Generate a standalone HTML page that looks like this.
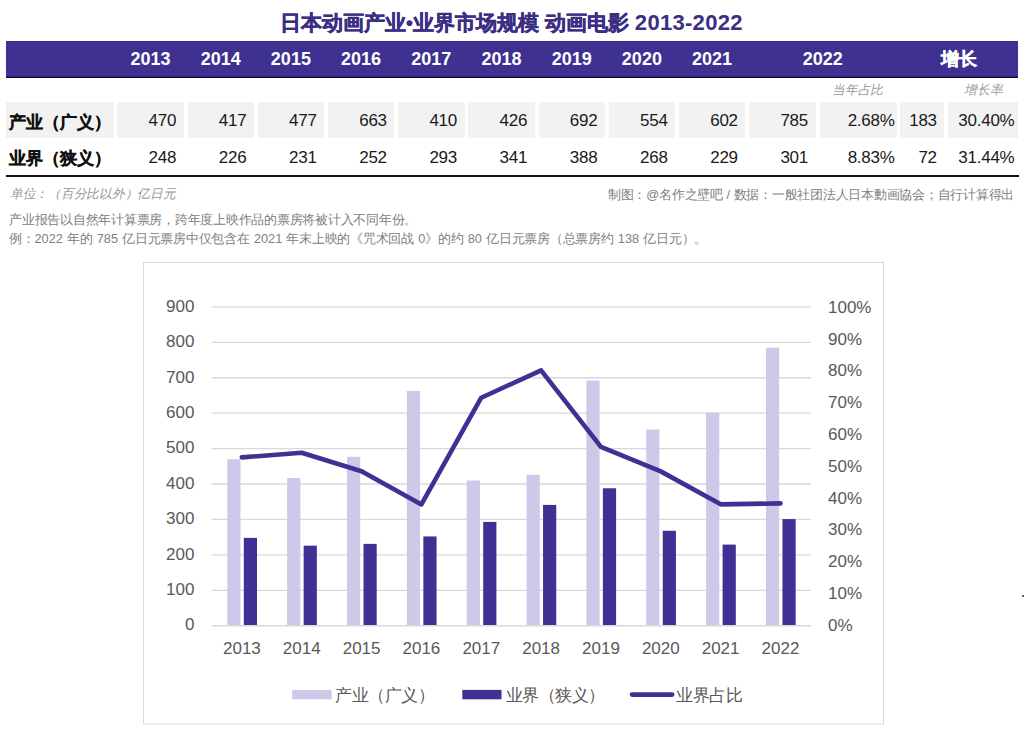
<!DOCTYPE html>
<html><head><meta charset="utf-8"><title>日本动画产业·业界市场规模 动画电影 2013-2022</title><style>
html,body{margin:0;padding:0;background:#fff;}
body{width:1024px;height:744px;position:relative;overflow:hidden;font-family:"Liberation Sans", sans-serif;}
.a{position:absolute;white-space:nowrap;}
.c{display:inline-block;width:1em;text-align:center;}
.title .c,.hy .c{-webkit-text-stroke:0.45px currentColor;}
.lab .c{-webkit-text-stroke:0.35px currentColor;}
.sk{transform:skewX(-13deg);transform-origin:0 100%;}
.title{left:279.8px;top:8.5px;font-size:21px;font-weight:bold;color:#3b2e84;line-height:28px;}
.hdr{left:6px;top:41px;width:1012px;height:37px;background:linear-gradient(to bottom,#372a80 0,#372a80 1px,#3f3192 1px,#3f3192 35px,#2b2170 35px,#2b2170 36px,#0c0830 36px,#0c0830 37px);}
.hy{top:47.3px;font-size:18px;font-weight:bold;color:#fff;line-height:24px;text-align:center;}
.cell{background:#f2f2f2;top:102px;height:36px;}
.num{font-size:17px;letter-spacing:-0.25px;color:#1a1a1a;line-height:20px;text-align:right;}
.lab{font-size:17px;font-weight:bold;color:#111;line-height:20px;}
.sub{font-size:12.8px;color:#9a9a9a;line-height:16px;}
.note{font-size:12.75px;color:#808080;line-height:16px;}
.ax{font-size:17px;color:#595959;line-height:20px;}
.leg{font-size:16.5px;color:#595959;line-height:20px;top:684.5px;}
</style></head><body>
<div class="a title"><span class="c">日</span><span class="c">本</span><span class="c">动</span><span class="c">画</span><span class="c">产</span><span class="c">业</span>•<span class="c">业</span><span class="c">界</span><span class="c">市</span><span class="c">场</span><span class="c">规</span><span class="c">模</span> <span class="c">动</span><span class="c">画</span><span class="c">电</span><span class="c">影</span> <span style="font-size:22px;letter-spacing:0.3px">2013-2022</span></div>
<div class="a hdr"></div>

<div class="a hy" style="left:115.5px;width:70px">2013</div>
<div class="a hy" style="left:185.7px;width:70px">2014</div>
<div class="a hy" style="left:255.9px;width:70px">2015</div>
<div class="a hy" style="left:326.1px;width:70px">2016</div>
<div class="a hy" style="left:396.3px;width:70px">2017</div>
<div class="a hy" style="left:466.5px;width:70px">2018</div>
<div class="a hy" style="left:536.7px;width:70px">2019</div>
<div class="a hy" style="left:606.9px;width:70px">2020</div>
<div class="a hy" style="left:677.1px;width:70px">2021</div>
<div class="a hy" style="left:772.8px;width:100px">2022</div>
<div class="a hy" style="left:918.7px;width:80px"><span class="c">增</span><span class="c">长</span></div>
<div class="a sub sk" style="left:831px;top:82.2px"><span class="c">当</span><span class="c">年</span><span class="c">占</span><span class="c">比</span></div>
<div class="a sub sk" style="left:962.5px;top:82.2px"><span class="c">增</span><span class="c">长</span><span class="c">率</span></div>
<div class="a cell" style="left:6px;width:107.5px"></div>
<div class="a cell" style="left:117.3px;width:66.6px"></div>
<div class="a cell" style="left:187.5px;width:66.6px"></div>
<div class="a cell" style="left:257.7px;width:66.6px"></div>
<div class="a cell" style="left:327.9px;width:66.6px"></div>
<div class="a cell" style="left:398.1px;width:66.6px"></div>
<div class="a cell" style="left:468.3px;width:66.6px"></div>
<div class="a cell" style="left:538.5px;width:66.6px"></div>
<div class="a cell" style="left:608.7px;width:66.6px"></div>
<div class="a cell" style="left:678.9px;width:66.6px"></div>
<div class="a cell" style="left:749.1px;width:66.6px"></div>
<div class="a cell" style="left:819.5px;width:77.3px"></div>
<div class="a cell" style="left:900.2px;width:44.2px"></div>
<div class="a cell" style="left:947.7px;width:70px"></div>
<div class="a lab" style="left:8.5px;top:112.5px"><span class="c">产</span><span class="c">业</span><span class="c">（</span><span class="c">广</span><span class="c">义</span><span class="c">）</span></div>
<div class="a lab" style="left:8.5px;top:149px"><span class="c">业</span><span class="c">界</span><span class="c">（</span><span class="c">狭</span><span class="c">义</span><span class="c">）</span></div>
<div class="a num" style="right:847.8px;top:110.8px">470</div>
<div class="a num" style="right:777.6px;top:110.8px">417</div>
<div class="a num" style="right:707.4px;top:110.8px">477</div>
<div class="a num" style="right:637.2px;top:110.8px">663</div>
<div class="a num" style="right:567.0px;top:110.8px">410</div>
<div class="a num" style="right:496.8px;top:110.8px">426</div>
<div class="a num" style="right:426.6px;top:110.8px">692</div>
<div class="a num" style="right:356.4px;top:110.8px">554</div>
<div class="a num" style="right:286.2px;top:110.8px">602</div>
<div class="a num" style="right:216.0px;top:110.8px">785</div>
<div class="a num" style="right:847.8px;top:147.6px">248</div>
<div class="a num" style="right:777.6px;top:147.6px">226</div>
<div class="a num" style="right:707.4px;top:147.6px">231</div>
<div class="a num" style="right:637.2px;top:147.6px">252</div>
<div class="a num" style="right:567.0px;top:147.6px">293</div>
<div class="a num" style="right:496.8px;top:147.6px">341</div>
<div class="a num" style="right:426.6px;top:147.6px">388</div>
<div class="a num" style="right:356.4px;top:147.6px">268</div>
<div class="a num" style="right:286.2px;top:147.6px">229</div>
<div class="a num" style="right:216.0px;top:147.6px">301</div>
<div class="a num" style="right:129.4px;top:110.8px">2.68%</div>
<div class="a num" style="right:129.4px;top:147.6px">8.83%</div>
<div class="a num" style="right:87.2px;top:110.8px">183</div>
<div class="a num" style="right:87.2px;top:147.6px">72</div>
<div class="a num" style="right:9.5px;top:110.8px">30.40%</div>
<div class="a num" style="right:9.5px;top:147.6px">31.44%</div>
<div class="a" style="left:6px;top:174.5px;width:1013px;height:2px;background:#111"></div>
<div class="a note sk" style="left:8.5px;top:186px;color:#959595"><span class="c">单</span><span class="c">位</span><span class="c">：</span><span class="c">（</span><span class="c">百</span><span class="c">分</span><span class="c">比</span><span class="c">以</span><span class="c">外</span><span class="c">）</span><span class="c">亿</span><span class="c">日</span><span class="c">元</span></div>
<div class="a note" style="right:10px;top:187px"><span class="c">制</span><span class="c">图</span><span class="c">：</span>@<span class="c">名</span><span class="c">作</span><span class="c">之</span><span class="c">壁</span><span class="c">吧</span> / <span class="c">数</span><span class="c">据</span><span class="c">：</span><span class="c">一</span><span class="c">般</span><span class="c">社</span><span class="c">团</span><span class="c">法</span><span class="c">人</span><span class="c">日</span><span class="c">本</span><span class="c">動</span><span class="c">画</span><span class="c">協</span><span class="c">会</span><span class="c">；</span><span class="c">自</span><span class="c">行</span><span class="c">计</span><span class="c">算</span><span class="c">得</span><span class="c">出</span></div>
<div class="a note" style="left:9px;top:211.5px"><span class="c">产</span><span class="c">业</span><span class="c">报</span><span class="c">告</span><span class="c">以</span><span class="c">自</span><span class="c">然</span><span class="c">年</span><span class="c">计</span><span class="c">算</span><span class="c">票</span><span class="c">房</span><span class="c">，</span><span class="c">跨</span><span class="c">年</span><span class="c">度</span><span class="c">上</span><span class="c">映</span><span class="c">作</span><span class="c">品</span><span class="c">的</span><span class="c">票</span><span class="c">房</span><span class="c">将</span><span class="c">被</span><span class="c">计</span><span class="c">入</span><span class="c">不</span><span class="c">同</span><span class="c">年</span><span class="c">份</span><span class="c">。</span></div>
<div class="a note" style="left:9px;top:230.6px;word-spacing:0.65px"><span class="c">例</span><span class="c">：</span>2022 <span class="c">年</span><span class="c">的</span> 785 <span class="c">亿</span><span class="c">日</span><span class="c">元</span><span class="c">票</span><span class="c">房</span><span class="c">中</span><span class="c">仅</span><span class="c">包</span><span class="c">含</span><span class="c">在</span> 2021 <span class="c">年</span><span class="c">末</span><span class="c">上</span><span class="c">映</span><span class="c">的</span><span class="c">《</span><span class="c">咒</span><span class="c">术</span><span class="c">回</span><span class="c">战</span> 0<span class="c">》</span><span class="c">的</span><span class="c">约</span> 80 <span class="c">亿</span><span class="c">日</span><span class="c">元</span><span class="c">票</span><span class="c">房</span><span class="c">（</span><span class="c">总</span><span class="c">票</span><span class="c">房</span><span class="c">约</span> 138 <span class="c">亿</span><span class="c">日</span><span class="c">元</span><span class="c">）</span><span class="c">。</span></div>
<svg class="a" style="left:0;top:0" width="1024" height="744" viewBox="0 0 1024 744">
<rect x="143.5" y="262.5" width="740" height="461.5" fill="none" stroke="#d9d9d9" stroke-width="1"/>
<line x1="211.5" y1="590.28" x2="810.9" y2="590.28" stroke="#d9d9d9" stroke-width="1.3"/>
<line x1="211.5" y1="554.86" x2="810.9" y2="554.86" stroke="#d9d9d9" stroke-width="1.3"/>
<line x1="211.5" y1="519.44" x2="810.9" y2="519.44" stroke="#d9d9d9" stroke-width="1.3"/>
<line x1="211.5" y1="484.02" x2="810.9" y2="484.02" stroke="#d9d9d9" stroke-width="1.3"/>
<line x1="211.5" y1="448.60" x2="810.9" y2="448.60" stroke="#d9d9d9" stroke-width="1.3"/>
<line x1="211.5" y1="413.18" x2="810.9" y2="413.18" stroke="#d9d9d9" stroke-width="1.3"/>
<line x1="211.5" y1="377.76" x2="810.9" y2="377.76" stroke="#d9d9d9" stroke-width="1.3"/>
<line x1="211.5" y1="342.34" x2="810.9" y2="342.34" stroke="#d9d9d9" stroke-width="1.3"/>
<line x1="211.5" y1="306.92" x2="810.9" y2="306.92" stroke="#d9d9d9" stroke-width="1.3"/>
<rect x="227.30" y="459.23" width="13.2" height="166.47" fill="#cdc9e9"/>
<rect x="243.80" y="537.86" width="13.2" height="87.84" fill="#3f3193"/>
<rect x="287.15" y="478.00" width="13.2" height="147.70" fill="#cdc9e9"/>
<rect x="303.65" y="545.65" width="13.2" height="80.05" fill="#3f3193"/>
<rect x="347.00" y="456.75" width="13.2" height="168.95" fill="#cdc9e9"/>
<rect x="363.50" y="543.88" width="13.2" height="81.82" fill="#3f3193"/>
<rect x="406.85" y="390.87" width="13.2" height="234.83" fill="#cdc9e9"/>
<rect x="423.35" y="536.44" width="13.2" height="89.26" fill="#3f3193"/>
<rect x="466.70" y="480.48" width="13.2" height="145.22" fill="#cdc9e9"/>
<rect x="483.20" y="521.92" width="13.2" height="103.78" fill="#3f3193"/>
<rect x="526.55" y="474.81" width="13.2" height="150.89" fill="#cdc9e9"/>
<rect x="543.05" y="504.92" width="13.2" height="120.78" fill="#3f3193"/>
<rect x="586.40" y="380.59" width="13.2" height="245.11" fill="#cdc9e9"/>
<rect x="602.90" y="488.27" width="13.2" height="137.43" fill="#3f3193"/>
<rect x="646.25" y="429.47" width="13.2" height="196.23" fill="#cdc9e9"/>
<rect x="662.75" y="530.77" width="13.2" height="94.93" fill="#3f3193"/>
<rect x="706.10" y="412.47" width="13.2" height="213.23" fill="#cdc9e9"/>
<rect x="722.60" y="544.59" width="13.2" height="81.11" fill="#3f3193"/>
<rect x="765.95" y="347.65" width="13.2" height="278.05" fill="#cdc9e9"/>
<rect x="782.45" y="519.09" width="13.2" height="106.61" fill="#3f3193"/>
<line x1="211.5" y1="625.70" x2="810.9" y2="625.70" stroke="#d9d9d9" stroke-width="1.5"/>
<polyline points="241.85,457.38 301.70,452.81 361.55,471.22 421.40,504.45 481.25,397.73 541.10,370.35 600.95,446.84 660.80,471.38 720.65,504.35 780.50,503.38" fill="none" stroke="#3f3193" stroke-width="4.6" stroke-linejoin="round" stroke-linecap="round"/>
<rect x="292.2" y="689.9" width="39.4" height="9.4" fill="#cdc9e9"/>
<rect x="462.3" y="689.9" width="39.2" height="9.4" fill="#3f3193"/>
<line x1="632" y1="694.6" x2="672.2" y2="694.6" stroke="#3f3193" stroke-width="4.6" stroke-linecap="round"/>
</svg>
<div class="a ax" style="right:829.6px;top:615.4px">0</div>
<div class="a ax" style="right:829.6px;top:580.0px">100</div>
<div class="a ax" style="right:829.6px;top:544.6px">200</div>
<div class="a ax" style="right:829.6px;top:509.1px">300</div>
<div class="a ax" style="right:829.6px;top:473.7px">400</div>
<div class="a ax" style="right:829.6px;top:438.3px">500</div>
<div class="a ax" style="right:829.6px;top:402.9px">600</div>
<div class="a ax" style="right:829.6px;top:367.5px">700</div>
<div class="a ax" style="right:829.6px;top:332.0px">800</div>
<div class="a ax" style="right:829.6px;top:296.6px">900</div>
<div class="a ax" style="left:828px;top:615.6px">0%</div>
<div class="a ax" style="left:828px;top:583.8px">10%</div>
<div class="a ax" style="left:828px;top:552.0px">20%</div>
<div class="a ax" style="left:828px;top:520.3px">30%</div>
<div class="a ax" style="left:828px;top:488.5px">40%</div>
<div class="a ax" style="left:828px;top:456.7px">50%</div>
<div class="a ax" style="left:828px;top:424.9px">60%</div>
<div class="a ax" style="left:828px;top:393.1px">70%</div>
<div class="a ax" style="left:828px;top:361.4px">80%</div>
<div class="a ax" style="left:828px;top:329.6px">90%</div>
<div class="a ax" style="left:828px;top:297.8px">100%</div>
<div class="a ax" style="left:201.9px;width:80px;text-align:center;top:638.5px">2013</div>
<div class="a ax" style="left:261.7px;width:80px;text-align:center;top:638.5px">2014</div>
<div class="a ax" style="left:321.6px;width:80px;text-align:center;top:638.5px">2015</div>
<div class="a ax" style="left:381.4px;width:80px;text-align:center;top:638.5px">2016</div>
<div class="a ax" style="left:441.3px;width:80px;text-align:center;top:638.5px">2017</div>
<div class="a ax" style="left:501.1px;width:80px;text-align:center;top:638.5px">2018</div>
<div class="a ax" style="left:561.0px;width:80px;text-align:center;top:638.5px">2019</div>
<div class="a ax" style="left:620.8px;width:80px;text-align:center;top:638.5px">2020</div>
<div class="a ax" style="left:680.6px;width:80px;text-align:center;top:638.5px">2021</div>
<div class="a ax" style="left:740.5px;width:80px;text-align:center;top:638.5px">2022</div>
<div class="a leg" style="left:335px"><span class="c">产</span><span class="c">业</span><span class="c">（</span><span class="c">广</span><span class="c">义</span><span class="c">）</span></div>
<div class="a leg" style="left:505.5px"><span class="c">业</span><span class="c">界</span><span class="c">（</span><span class="c">狭</span><span class="c">义</span><span class="c">）</span></div>
<div class="a leg" style="left:676px"><span class="c">业</span><span class="c">界</span><span class="c">占</span><span class="c">比</span></div>
<div class="a" style="left:1022px;top:595px;width:2px;height:2px;background:#333;border-radius:1px"></div>
</body></html>
